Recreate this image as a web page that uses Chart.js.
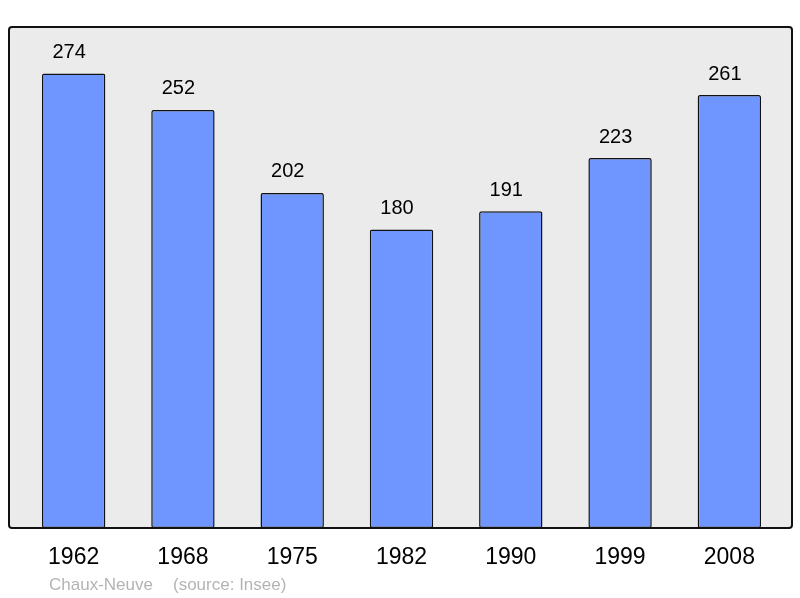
<!DOCTYPE html>
<html>
<head>
<meta charset="utf-8">
<script src="https://cdn.jsdelivr.net/npm/chart.js@4/dist/chart.umd.min.js"></script>
<style>
  html, body { margin: 0; padding: 0; background: #fff; }
  #wrap { width: 800px; height: 598px; }
</style>
</head>
<body>
<div id="wrap"><canvas id="grafico" width="800" height="598"></canvas></div>
<script>
// données de population
const annees = ['1962', '1968', '1975', '1982', '1990', '1999', '2008'];
const population = [274, 252, 202, 180, 191, 223, 261];
const commune = 'Chaux-Neuve';
const source = '(source: Insee)';

// cadre gris derrière les barres
const cadre = {
    id: 'cadre',
    beforeDatasetsDraw(chart) {
        const ctx = chart.ctx;
        const a = chart.chartArea;
        const x0 = 9, x1 = 792, y0 = a.top, y1 = a.bottom;
        ctx.save();
        ctx.beginPath();
        ctx.roundRect(x0, y0, x1 - x0, y1 - y0, 3);
        ctx.fillStyle = '#ebebeb';
        ctx.fill();
        ctx.lineWidth = 2;
        ctx.strokeStyle = '#111';
        ctx.stroke();
        ctx.restore();
    },
    afterDatasetsDraw(chart) {
        const ctx = chart.ctx;
        const meta = chart.getDatasetMeta(0);
        ctx.save();
        ctx.font = '20px "Liberation Sans", Arial, sans-serif';
        ctx.fillStyle = '#000';
        ctx.textAlign = 'center';
        ctx.textBaseline = 'middle';
        meta.data.forEach((bar, i) => {
            ctx.fillText(String(population[i]), bar.x - 4.5, bar.y - 21);
        });
        // pied de page
        ctx.font = '17px "Liberation Sans", Arial, sans-serif';
        ctx.fillStyle = '#b4b4b4';
        ctx.textAlign = 'left';
        ctx.fillText(commune, 49, 585);
        ctx.fillText(source, 173, 585);
        ctx.restore();
    }
};

const ctx = document.getElementById('grafico').getContext('2d');
new Chart(ctx, {
    type: 'bar',
    data: {
        labels: annees,
        datasets: [{
            data: population,
            backgroundColor: '#6f96ff',
            borderColor: '#111',
            borderWidth: 1.5,
            borderRadius: 2,
            borderSkipped: false,
            categoryPercentage: 1,
            barPercentage: 0.58
        }]
    },
    options: {
        responsive: false,
        animation: false,
        layout: { padding: { left: 19, right: 16, top: 27, bottom: 0 } },
        plugins: { legend: { display: false }, tooltip: { enabled: false } },
        scales: {
            x: {
                grid: { display: false },
                border: { display: false },
                ticks: {
                    color: '#000',
                    padding: 8,
                    font: { family: '"Liberation Sans", Arial, sans-serif', size: 23 }
                },
                afterFit(scale) { scale.height = 70; }
            },
            y: {
                display: false,
                min: 0,
                max: 302
            }
        }
    },
    plugins: [cadre]
});
</script>
</body>
</html>
